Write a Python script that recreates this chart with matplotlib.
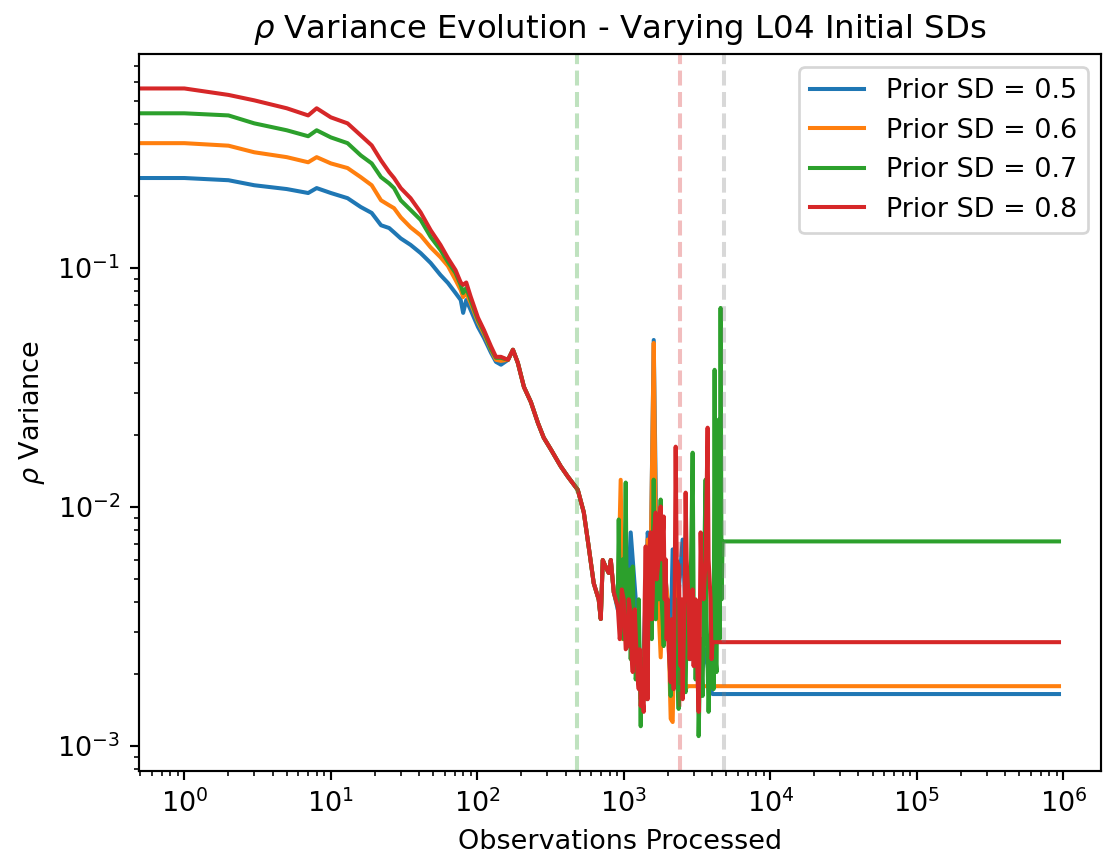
import matplotlib
matplotlib.use("Agg")
import matplotlib.pyplot as plt

# prior SDs compared in the run
prior_sds = [0.5, 0.6, 0.7, 0.8]
colors = ['#1f77b4', '#ff7f0e', '#2ca02c', '#d62728']

# early phase: curves still separated by their prior
early_x = [0, 1, 2, 3, 5, 7, 8, 10, 13, 16, 19, 22, 25, 27, 30, 35, 41, 48, 56, 63,
           71, 77, 80, 84, 90, 101, 111, 124, 134, 145]
early_05 = [0.238, 0.238, 0.233, 0.222, 0.214, 0.206, 0.216, 0.206, 0.196, 0.180,
            0.170, 0.151, 0.147, 0.141, 0.133, 0.125, 0.1155, 0.105, 0.0935, 0.0866,
            0.0786, 0.0735, 0.0649, 0.0735, 0.0668, 0.0567, 0.0510, 0.0442, 0.0405, 0.0394]
early_06 = [0.333, 0.333, 0.325, 0.305, 0.291, 0.277, 0.291, 0.274, 0.262, 0.240,
            0.222, 0.192, 0.183, 0.178, 0.163, 0.148, 0.137, 0.122, 0.111, 0.102,
            0.0891, 0.0809, 0.0756, 0.0786, 0.0714, 0.0595, 0.0530, 0.0455, 0.0413, 0.0409]
early_07 = [0.444, 0.444, 0.435, 0.403, 0.377, 0.356, 0.377, 0.352, 0.333, 0.296,
            0.274, 0.240, 0.226, 0.216, 0.192, 0.175, 0.159, 0.135, 0.119, 0.106,
            0.0953, 0.0849, 0.0786, 0.0825, 0.0735, 0.0607, 0.0541, 0.0459, 0.0421, 0.0421]
early_08 = [0.564, 0.564, 0.530, 0.503, 0.466, 0.435, 0.466, 0.427, 0.403, 0.359,
            0.326, 0.282, 0.252, 0.238, 0.216, 0.196, 0.171, 0.144, 0.125, 0.110,
            0.098, 0.087, 0.085, 0.087, 0.076, 0.062, 0.055, 0.047, 0.0425, 0.0425]

# middle phase: all priors give (almost) the same variance
mid_x = [162, 175, 189, 208, 232, 259, 284, 318, 371, 415, 485, 533, 576, 623, 674,
         696, 718, 753, 789, 815, 854]
mid_y = [0.0413, 0.0455, 0.0401, 0.0318, 0.0275, 0.0225, 0.0195, 0.0174, 0.0148,
         0.0134, 0.0118, 0.0095, 0.0068, 0.0048, 0.0041, 0.0034, 0.0060, 0.0056,
         0.0053, 0.0060, 0.0044]

# late phase: unstable, different for every prior
late_x_05 = [909, 983, 1064, 1114, 1206, 1304, 1367, 1456, 1526, 1600, 1676, 1785,
             1930, 2089, 2155, 2294, 2520, 2684, 2858, 3091, 3344, 3617, 3912, 4036]
late_y_05 = [0.00373, 0.00339, 0.00411, 0.00783, 0.00411, 0.00173, 0.00254, 0.00783,
             0.00604, 0.0500, 0.00604, 0.00339, 0.00498, 0.00280, 0.00665, 0.00339,
             0.00731, 0.00280, 0.00231, 0.00339, 0.00190, 0.00254, 0.00173, 0.00165]
late_x_06 = [909, 952, 983, 1064, 1150, 1244, 1304, 1367, 1456, 1526, 1575, 1600,
             1650, 1703, 1785, 1871, 1992, 2089, 2155, 2259, 2366, 2520, 2640, 2727]
late_y_06 = [0.00385, 0.0130, 0.00280, 0.00411, 0.00254, 0.00373, 0.00157, 0.00190,
             0.00731, 0.00604, 0.0239, 0.0486, 0.00887, 0.00452, 0.00235, 0.00604,
             0.00411, 0.00130, 0.00126, 0.00604, 0.00339, 0.00254, 0.00173, 0.00178]
late_x_07 = [909, 923, 938, 952, 983, 998, 1030, 1047, 1080, 1097,
             1114, 1150, 1168, 1205, 1244, 1264, 1304, 1324, 1367, 1410,
             1433, 1478, 1526, 1550, 1599, 1624, 1650, 1703, 1729, 1784,
             1813, 1871, 1900, 1961, 1992, 2056, 2088, 2121, 2189, 2259,
             2294, 2367, 2443, 2520, 2560, 2642, 2684, 2769, 2813, 2949,
             2996, 3091, 3190, 3241, 3344, 3450, 3504, 3616, 3674, 3790,
             3912, 4036, 4101, 4166, 4231, 4298, 4366, 4436, 4506, 4577,
             4650, 4723]
late_y_07 = [0.00384, 0.00887, 0.00411, 0.00363, 0.00604, 0.00280, 0.01266, 0.00411, 0.00308, 0.00548,
             0.00231, 0.00564, 0.00339, 0.00190, 0.00224, 0.00411, 0.00121, 0.00231, 0.00190, 0.00339,
             0.00157, 0.00423, 0.00604, 0.00280, 0.01302, 0.00604, 0.00339, 0.00805, 0.00411, 0.01075,
             0.00411, 0.00262, 0.00498, 0.00280, 0.00363, 0.00231, 0.00162, 0.00339, 0.00210, 0.00411,
             0.00231, 0.00143, 0.00339, 0.00363, 0.00190, 0.00168, 0.00339, 0.00498, 0.00231, 0.01688,
             0.00411, 0.00190, 0.00339, 0.00110, 0.00280, 0.00162, 0.00411, 0.01302, 0.00339, 0.00139,
             0.00280, 0.00363, 0.00173, 0.03751, 0.00231, 0.00204, 0.01302, 0.02319, 0.00280, 0.06808,
             0.00411, 0.00718]
late_x_08 = [909, 938, 952, 968, 998, 1030, 1063, 1080, 1114, 1132,
             1150, 1187, 1205, 1244, 1264, 1284, 1304, 1324, 1367, 1388,
             1410, 1433, 1455, 1478, 1526, 1550, 1574, 1599, 1650, 1676,
             1729, 1757, 1784, 1813, 1871, 1900, 1930, 1961, 1992, 2024,
             2088, 2121, 2189, 2223, 2259, 2294, 2367, 2405, 2443, 2481,
             2520, 2601, 2642, 2684, 2769, 2813, 2858, 2949, 2996, 3043,
             3091, 3190, 3241, 3292, 3344, 3396, 3504, 3616, 3732, 3790,
             3912, 3974, 4036]
late_y_08 = [0.00384, 0.00280, 0.00308, 0.00452, 0.00411, 0.00254, 0.00262, 0.00411, 0.00356, 0.00231,
             0.00204, 0.00373, 0.00299, 0.00190, 0.00173, 0.00254, 0.00147, 0.00173, 0.00139, 0.00411,
             0.00684, 0.00280, 0.00157, 0.00604, 0.00783, 0.00339, 0.00411, 0.00732, 0.00948, 0.00498,
             0.00604, 0.00887, 0.01005, 0.00604, 0.00913, 0.00411, 0.00604, 0.00280, 0.00411, 0.00254,
             0.00185, 0.00339, 0.00173, 0.00411, 0.01789, 0.00604, 0.00564, 0.00280, 0.00216, 0.00411,
             0.00157, 0.00411, 0.01149, 0.00604, 0.00411, 0.00231, 0.00280, 0.00452, 0.00216, 0.00339,
             0.00411, 0.00190, 0.00139, 0.00280, 0.00783, 0.00498, 0.00411, 0.00604, 0.02148, 0.00604,
             0.00411, 0.00231, 0.00272]

# final variance held until the end of the stream
last_obs = 935000
final_var = [0.00165, 0.00178, 0.00718, 0.00272]

# phase markers (observations)
phase_marks = [480, 2400, 4800]
phase_colors = ['#2ca02c', '#d62728', 'gray']


def build_series():
    early = [early_05, early_06, early_07, early_08]
    late_x = [late_x_05, late_x_06, late_x_07, late_x_08]
    late_y = [late_y_05, late_y_06, late_y_07, late_y_08]
    series = []
    for i in range(len(prior_sds)):
        x = early_x + mid_x + late_x[i] + [last_obs]
        y = early[i] + mid_y + late_y[i] + [final_var[i]]
        series.append((x, y))
    return series


def main():
    dpi = 194
    fig, ax = plt.subplots(figsize=(1104 / dpi, 867 / dpi), dpi=dpi)
    fig.subplots_adjust(left=0.1259, right=0.9973, top=0.9377, bottom=0.1107)

    for (x, y), sd, c in zip(build_series(), prior_sds, colors):
        ax.plot(x, y, color=c, label=f'Prior SD = {sd}')

    for xm, c in zip(phase_marks, phase_colors):
        ax.axvline(xm, color=c, linestyle='--', alpha=0.3)

    ax.set_xscale('log')
    ax.set_yscale('log')
    ax.set_xlim(0.49, 1.81e6)
    ax.set_ylim(7.86e-4, 0.786)
    ax.set_xlabel('Observations Processed')
    ax.set_ylabel(r'$\rho$ Variance')
    ax.set_title(r'$\rho$ Variance Evolution - Varying L04 Initial SDs')
    ax.legend(loc='upper right')

    fig.savefig('out.png', dpi=dpi)


if __name__ == "__main__":
    main()
